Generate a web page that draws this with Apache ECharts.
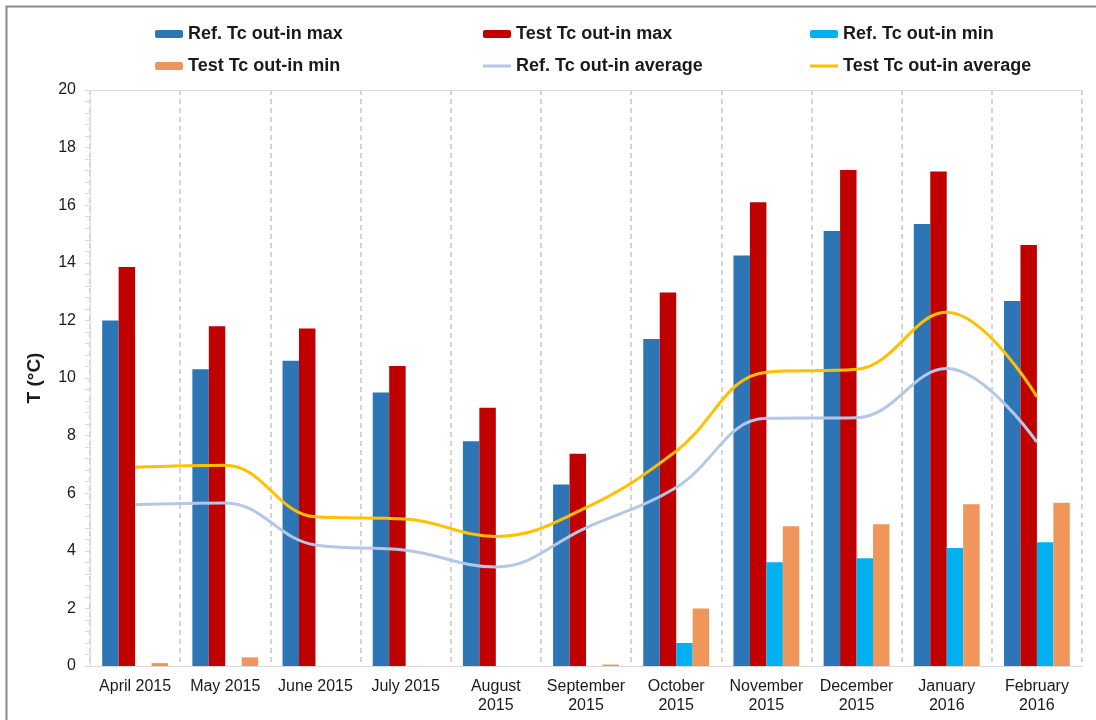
<!DOCTYPE html>
<html>
<head>
<meta charset="utf-8">
<script src="https://cdn.jsdelivr.net/npm/echarts@6/dist/echarts.min.js"></script>
<style>
  html, body { margin: 0; padding: 0; background: #fff; }
  #chart { width: 1096px; height: 720px; }
</style>
</head>
<body>
<div id="chart"></div>
<script>
// Monthly categories (line breaks where the label wraps)
const months = ['April 2015', 'May 2015', 'June 2015', 'July 2015', 'August\n2015', 'September\n2015',
  'October\n2015', 'November\n2015', 'December\n2015', 'January\n2016', 'February\n2016'];

// Temperature differences out-in, °C
const refMax  = [12.0, 10.3, 10.6, 9.5, 7.8, 6.3, 11.35, 14.25, 15.1, 15.35, 12.67];
const testMax = [13.85, 11.8, 11.72, 10.42, 8.97, 7.37, 12.97, 16.1, 17.22, 17.17, 14.62];
const refMin  = [0, 0, 0, 0, 0, 0, 0.8, 3.6, 3.74, 4.1, 4.3];
const testMin = [0.1, 0.3, 0, 0, 0, 0.05, 2.0, 4.85, 4.92, 5.62, 5.67];
const refAvg  = [5.6, 5.66, 4.2, 4.02, 3.44, 4.8, 6.2, 8.6, 8.62, 10.33, 7.77];
const testAvg = [6.9, 6.97, 5.18, 5.1, 4.5, 5.5, 7.46, 10.2, 10.3, 12.28, 9.35];

const yTicks = { min: 0, max: 20, interval: 2 };

const font = 'Liberation Sans, Arial, sans-serif';
const chart = echarts.init(document.getElementById('chart'));

// thin stroke used as the legend marker of the line series
const lineIcon = 'path://M0,0 L28,0 L28,3 L0,3 Z';

const legendText = { fontFamily: font, fontSize: 18, fontWeight: 'bold', color: '#1a1a1a', lineHeight: 18 };
function legendCol(left, items) {
  return {
    orient: 'vertical', left: left, top: 20, itemWidth: 28, itemHeight: 8, itemGap: 14,
    textStyle: legendText, data: items, selectedMode: false
  };
}

function bar(name, data, color) {
  return { name: name, type: 'bar', data: data, barGap: 0, barCategoryGap: '27%',
    itemStyle: { color: color }, emphasis: { disabled: true } };
}
function line(name, data, color) {
  return { name: name, type: 'line', data: data, smooth: 0.4, symbol: 'none',
    lineStyle: { color: color, width: 3 }, itemStyle: { color: color }, z: 5 };
}

chart.setOption({
  animation: false,
  backgroundColor: '#fff',
  graphic: [{
    type: 'rect', left: 4, top: 4, shape: { width: 1200, height: 800 },
    style: { fill: 'none', stroke: '#8a8a8a', lineWidth: 2 }, silent: true
  }],
  legend: [
    legendCol(150, ['Ref. Tc out-in max', 'Test Tc out-in min']),
    legendCol(478, ['Test Tc out-in max', { name: 'Ref. Tc out-in average', icon: lineIcon }]),
    legendCol(805, ['Ref. Tc out-in min', { name: 'Test Tc out-in average', icon: lineIcon }])
  ],
  grid: { left: 90, right: 14, top: 90, bottom: 54 },
  xAxis: [{
    type: 'category', data: months, boundaryGap: true,
    axisLine: { lineStyle: { color: '#d9d9d9', width: 1 } },
    axisTick: { show: false },
    axisLabel: { interval: 0, fontFamily: font, fontSize: 16, color: '#1a1a1a', margin: 11, lineHeight: 19 },
    splitLine: { show: true, lineStyle: { color: '#c8c8c8', type: [5, 4], width: 1.5 } }
  }, {
    // top edge of the plot area
    type: 'category', data: months, position: 'top',
    axisLine: { show: true, lineStyle: { color: '#d9d9d9', width: 1 } },
    axisTick: { show: false }, axisLabel: { show: false }, splitLine: { show: false }
  }],
  yAxis: {
    type: 'value', min: yTicks.min, max: yTicks.max, interval: yTicks.interval,
    name: 'T (°C)', nameLocation: 'middle', nameGap: 46, nameRotate: 90,
    nameTextStyle: { fontFamily: font, fontSize: 19, fontWeight: 'bold', color: '#1a1a1a' },
    axisLine: { show: true, lineStyle: { color: '#d9d9d9' } },
    axisTick: { show: true, inside: false, length: 5, lineStyle: { color: '#d9d9d9' } },
    minorTick: { show: true, splitNumber: 5, length: 5, lineStyle: { color: '#d9d9d9' } },
    axisLabel: { fontFamily: font, fontSize: 16, color: '#1a1a1a', margin: 14 },
    splitLine: { show: false }
  },
  series: [
    bar('Ref. Tc out-in max', refMax, '#2E75B6'),
    bar('Test Tc out-in max', testMax, '#C00000'),
    bar('Ref. Tc out-in min', refMin, '#00B0F0'),
    bar('Test Tc out-in min', testMin, '#F0965A'),
    line('Ref. Tc out-in average', refAvg, '#B4C7E7'),
    line('Test Tc out-in average', testAvg, '#FFC000')
  ]
});
</script>
</body>
</html>
